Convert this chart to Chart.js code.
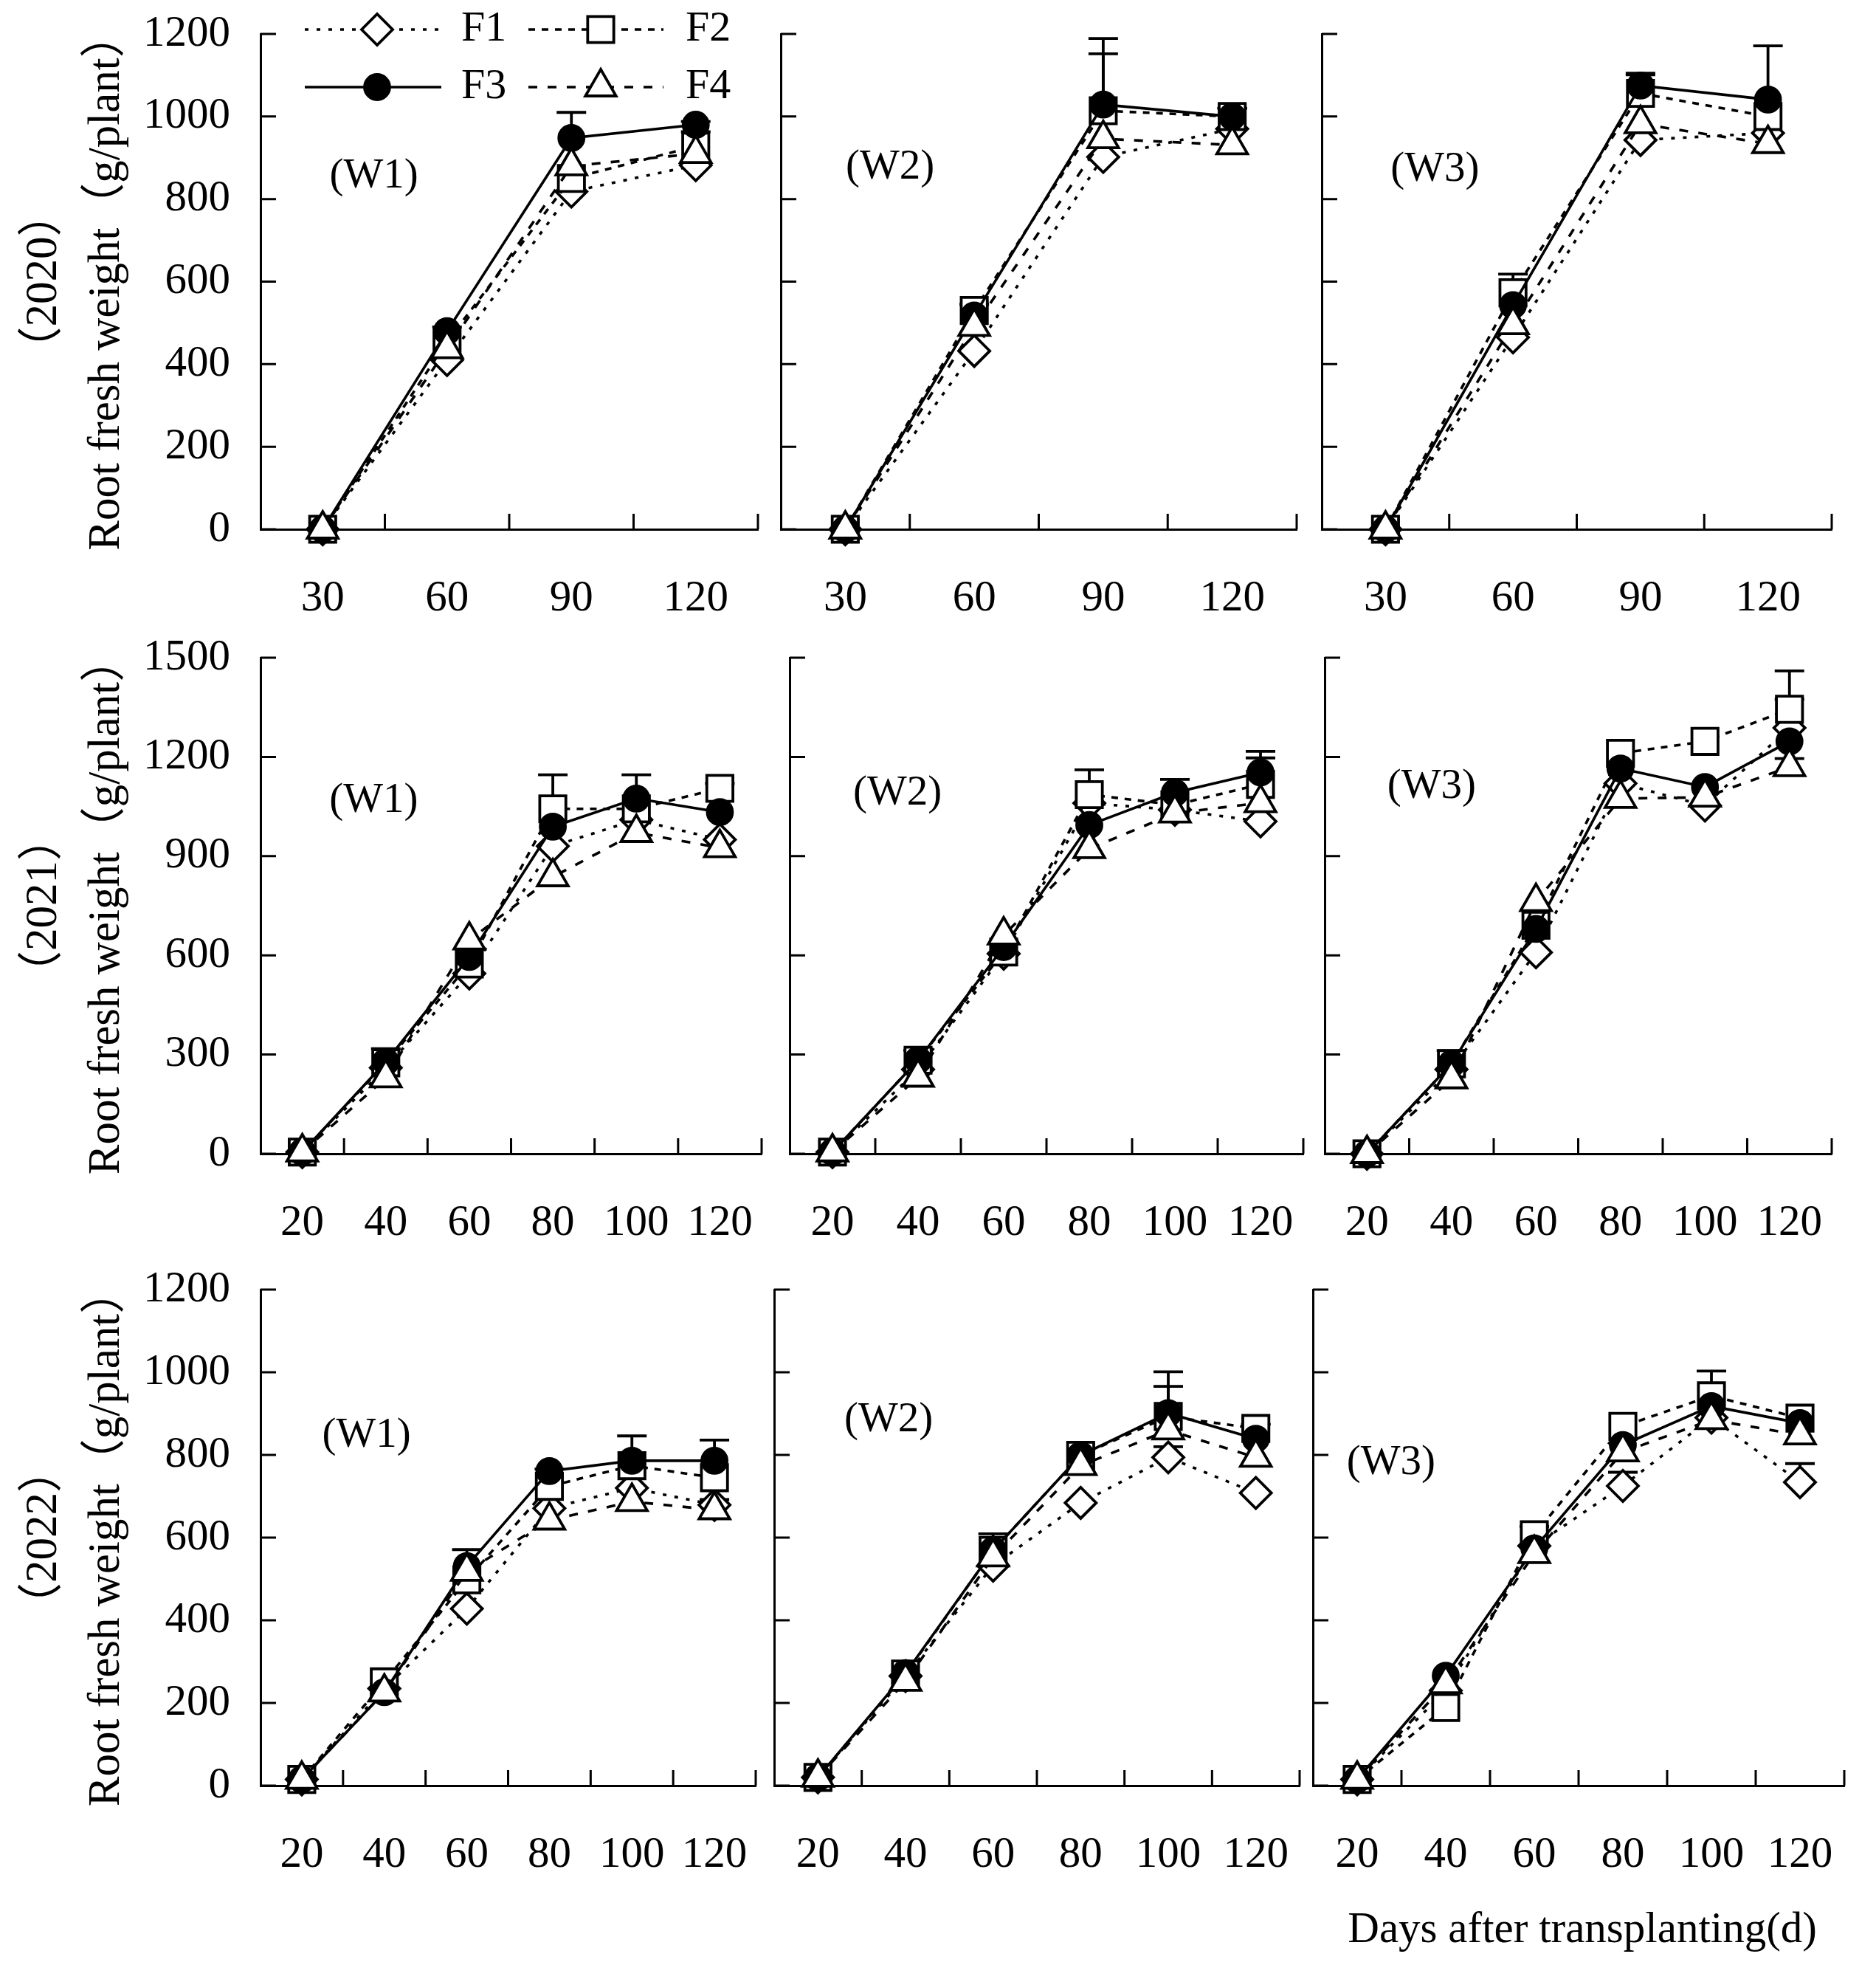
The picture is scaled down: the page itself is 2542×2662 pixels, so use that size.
<!DOCTYPE html>
<html>
<head>
<meta charset="utf-8">
<script src="https://cdn.jsdelivr.net/npm/chart.js@4.4.0/dist/chart.umd.min.js"></script>
<style>
  html, body { margin: 0; padding: 0; background: #fff; }
  #page { position: relative; width: 2542px; height: 2662px; overflow: hidden; background: #fff; }
  #page canvas { position: absolute; }
  #xlab {
    position: absolute; right: 80px; top: 2578px; line-height: 66px;
    font-family: 'Liberation Serif', 'Noto Sans CJK SC', serif; font-size: 59px; color: #000; white-space: nowrap;
  }
</style>
</head>
<body>
<div id="page"><div id="xlab">Days after transplanting(d)</div></div>
<script>
// ===== 数据 =====
const days2020 = ["30", "60", "90", "120"];
const days2122 = ["20", "40", "60", "80", "100", "120"];
const seriesNames = ["F1", "F2", "F3", "F4"];
const yTitles = [
  ["（2020）", "Root fresh weight（g/plant）"],
  ["（2021）", "Root fresh weight（g/plant）"],
  ["（2022）", "Root fresh weight（g/plant）"]
];
const plotLabels = ["(W1)", "(W2)", "(W3)"];

// 2020
const y20w1F1 = [0, 410, 818, 882];
const y20w1F2 = [0, 455, 850, 928];
const y20w1F3 = [0, 480, 948, 980];
const y20w1F4 = [0, 437, 880, 910];
const y20w2F1 = [0, 432, 902, 970];
const y20w2F2 = [0, 530, 1014, 1000];
const y20w2F3 = [0, 518, 1029, 1000];
const y20w2F4 = [0, 491, 946, 931];
const y20w3F1 = [0, 465, 943, 960];
const y20w3F2 = [0, 573, 1056, 1000];
const y20w3F3 = [0, 543, 1075, 1041];
const y20w3F4 = [0, 495, 982, 934];
// 2021
const y21w1F1 = [5, 260, 545, 930, 1010, 950];
const y21w1F2 = [5, 275, 574, 1043, 1043, 1105];
const y21w1F3 = [5, 278, 595, 989, 1074, 1033];
const y21w1F4 = [5, 229, 646, 837, 971, 925];
const y21w2F1 = [5, 255, 605, 1060, 1040, 1005];
const y21w2F2 = [5, 283, 610, 1086, 1055, 1117];
const y21w2F3 = [5, 283, 625, 994, 1092, 1153];
const y21w2F4 = [5, 231, 661, 922, 1030, 1061];
const y21w3F1 = [0, 255, 609, 1120, 1053, 1288];
const y21w3F2 = [0, 272, 691, 1211, 1247, 1344];
const y21w3F3 = [0, 272, 680, 1165, 1109, 1247];
const y21w3F4 = [0, 226, 762, 1074, 1078, 1170];
// 2022
const y22w1F1 = [15, 235, 428, 671, 720, 679];
const y22w1F2 = [15, 251, 498, 724, 774, 745];
const y22w1F3 = [15, 226, 531, 761, 786, 786];
const y22w1F4 = [15, 226, 518, 642, 687, 667];
const y22w2F1 = [20, 265, 532, 684, 794, 708];
const y22w2F2 = [20, 270, 569, 799, 893, 864];
const y22w2F3 = [20, 272, 569, 799, 901, 839];
const y22w2F4 = [20, 252, 553, 774, 860, 794];
const y22w3F1 = [15, 230, 580, 725, 890, 734];
const y22w3F2 = [15, 189, 607, 869, 943, 889];
const y22w3F3 = [15, 266, 574, 824, 918, 877];
const y22w3F4 = [15, 246, 561, 807, 885, 848];

// 误差线（仅向上）
const none4 = [0, 0, 0, 0];
const none6 = [0, 0, 0, 0, 0, 0];
const e20w1 = [none4, [0, 0, 0, 35], [0, 10, 62, 8], none4];
const e20w2 = [none4, [0, 15, 138, 20], [0, 0, 160, 20], none4];
const e20w3 = [none4, [0, 45, 45, 0], [0, 0, 30, 130], none4];
const e21w1 = [none6, [0, 0, 0, 103, 0, 15], [0, 40, 0, 0, 72, 0], none6];
const e21w2 = [none6, [0, 0, 0, 75, 0, 80], [0, 30, 0, 0, 40, 64], none6];
const e21w3 = [[0, 0, 0, 0, 0, 86], [0, 0, 0, 0, 0, 116], [0, 40, 0, 0, 0, 0], [0, 0, 0, 0, 0, 25]];
const e22w1 = [none6, none6, [0, 0, 40, 5, 60, 50], [0, 0, 0, 0, 0, 25]];
const e22w2 = [[0, 0, 0, 0, 26, 0], [0, 0, 40, 0, 73, 10], [0, 0, 0, 0, 100, 0], none6];
const e22w3 = [[0, 0, 0, 33, 0, 45], [0, 0, 20, 0, 60, 0], none6, none6];

const panels = [
  { days: days2020, yMax: 1200, step: 200, series: [y20w1F1, y20w1F2, y20w1F3, y20w1F4], errs: e20w1 },
  { days: days2020, yMax: 1200, step: 200, series: [y20w2F1, y20w2F2, y20w2F3, y20w2F4], errs: e20w2 },
  { days: days2020, yMax: 1200, step: 200, series: [y20w3F1, y20w3F2, y20w3F3, y20w3F4], errs: e20w3 },
  { days: days2122, yMax: 1500, step: 300, series: [y21w1F1, y21w1F2, y21w1F3, y21w1F4], errs: e21w1 },
  { days: days2122, yMax: 1500, step: 300, series: [y21w2F1, y21w2F2, y21w2F3, y21w2F4], errs: e21w2 },
  { days: days2122, yMax: 1500, step: 300, series: [y21w3F1, y21w3F2, y21w3F3, y21w3F4], errs: e21w3 },
  { days: days2122, yMax: 1200, step: 200, series: [y22w1F1, y22w1F2, y22w1F3, y22w1F4], errs: e22w1 },
  { days: days2122, yMax: 1200, step: 200, series: [y22w2F1, y22w2F2, y22w2F3, y22w2F4], errs: e22w2 },
  { days: days2122, yMax: 1200, step: 200, series: [y22w3F1, y22w3F2, y22w3F3, y22w3F4], errs: e22w3 }
];

// ===== 版面 =====
const FONT = "'Liberation Serif', 'Noto Sans CJK SC', serif";
const YW = 340;   // 纵轴区宽度
const PT = 45;    // 绘图区上方留白
const PR = 30;
const XH = 140;   // 横轴区高度
const TICK = 21;  // 内向刻度线长度
// 绘图区位置 [left, top, width, height]
const boxes = [
  [353, 46, 674, 671], [1058, 46, 699, 671], [1791, 46, 691, 671],
  [353, 891, 679, 672], [1070, 891, 696, 672], [1795, 891, 687, 672],
  [353, 1747, 671, 672], [1049, 1747, 712, 672], [1779, 1747, 720, 672]
];
// (W) 标签位置（绘图区比例）
const labelPos = [
  [0.228, 0.288], [0.212, 0.27], [0.222, 0.275],
  [0.226, 0.289], [0.21, 0.274], [0.211, 0.26],
  [0.214, 0.294], [0.218, 0.264], [0.147, 0.35]
];
// 图例位置：线起点、线终点、符号、文字、相对绘图区顶部
const legendSpots = [[60, 245, 158, 272, -6], [363, 546, 461, 576, -6], [60, 245, 158, 272, 72], [363, 546, 461, 576, 72]];

const styles = [
  { dash: [5, 11], pointStyle: "rectRot", radius: 21, fill: "#fff" },
  { dash: [9, 9], pointStyle: "rect", radius: 25, fill: "#fff" },
  { dash: [], pointStyle: "circle", radius: 17, fill: "#000" },
  { dash: [12, 14], pointStyle: "triangle", radius: 24, fill: "#fff" }
];

// ===== 插件 =====
const errorBars = {
  id: "errorBars",
  beforeDatasetsDraw(chart) {
    const { ctx } = chart;
    const ys = chart.scales.y;
    chart.data.datasets.forEach((ds, i) => {
      const meta = chart.getDatasetMeta(i);
      ds.errs.forEach((e, j) => {
        if (!e) return;
        const x = meta.data[j].x;
        const y0 = ys.getPixelForValue(ds.data[j]);
        const y1 = ys.getPixelForValue(ds.data[j] + e);
        ctx.save();
        ctx.strokeStyle = "#000";
        ctx.lineWidth = 3.8;
        ctx.beginPath();
        ctx.moveTo(x, y0); ctx.lineTo(x, y1);
        ctx.moveTo(x - 20, y1); ctx.lineTo(x + 20, y1);
        ctx.stroke();
        ctx.restore();
      });
    });
  }
};

const innerTicks = {
  id: "innerTicks",
  afterDraw(chart) {
    const { ctx, chartArea: a } = chart;
    const xs = chart.scales.x, ys = chart.scales.y;
    ctx.save();
    ctx.strokeStyle = "#000";
    ctx.lineWidth = 3;
    ctx.beginPath();
    ys.ticks.forEach(t => {
      const y = ys.getPixelForValue(t.value);
      ctx.moveTo(a.left, y); ctx.lineTo(a.left + TICK, y);
    });
    for (let i = 1; i <= xs.ticks.length; i++) {
      const x = xs.getPixelForValue(i - 0.5);
      ctx.moveTo(x, a.bottom); ctx.lineTo(x, a.bottom - TICK);
    }
    ctx.stroke();
    ctx.restore();
  }
};

const panelText = {
  id: "panelText",
  afterDraw(chart, args, opts) {
    const { ctx, chartArea: a } = chart;
    ctx.save();
    ctx.fillStyle = "#000";
    ctx.font = `57px ${FONT}`;
    ctx.textAlign = "center";
    ctx.textBaseline = "middle";
    ctx.fillText(opts.text, a.left + opts.fx * (a.right - a.left), a.top + opts.fy * (a.bottom - a.top));
    ctx.restore();
  }
};

const fLegend = {
  id: "fLegend",
  afterDraw(chart, args, opts) {
    if (!opts.show) return;
    const { ctx, chartArea: a } = chart;
    chart.data.datasets.forEach((ds, i) => {
      const [x0, x1, xm, xt, dy] = legendSpots[i];
      const y = a.top + dy;
      ctx.save();
      ctx.strokeStyle = "#000";
      ctx.lineWidth = ds.borderWidth;
      ctx.setLineDash(ds.borderDash);
      ctx.beginPath();
      ctx.moveTo(a.left + x0, y); ctx.lineTo(a.left + x1, y);
      ctx.stroke();
      ctx.setLineDash([]);
      ctx.fillStyle = ds.pointBackgroundColor;
      ctx.lineWidth = ds.pointBorderWidth;
      Chart.helpers.drawPoint(ctx, { pointStyle: ds.pointStyle, radius: ds.pointRadius, borderWidth: ds.pointBorderWidth, rotation: 0 }, a.left + xm, y);
      ctx.fillStyle = "#000";
      ctx.font = `58px ${FONT}`;
      ctx.textAlign = "left";
      ctx.textBaseline = "middle";
      ctx.fillText(ds.label, a.left + xt, y);
      ctx.restore();
    });
  }
};

// ===== 建图 =====
const page = document.getElementById("page");

panels.forEach((p, idx) => {
  const row = Math.floor(idx / 3), col = idx % 3;
  const [bl, bt, bw, bh] = boxes[idx];
  const cv = document.createElement("canvas");
  cv.width = YW + bw + PR;
  cv.height = PT + bh + XH;
  cv.style.left = (bl - YW) + "px";
  cv.style.top = (bt - PT) + "px";
  cv.style.width = cv.width + "px";
  cv.style.height = cv.height + "px";
  page.appendChild(cv);

  const datasets = p.series.map((vals, k) => ({
    label: seriesNames[k],
    data: vals,
    errs: p.errs[k],
    borderColor: "#000",
    borderWidth: 3.6,
    borderDash: styles[k].dash,
    pointStyle: styles[k].pointStyle,
    pointRadius: styles[k].radius,
    pointBorderWidth: 3.8,
    pointBorderColor: "#000",
    pointBackgroundColor: styles[k].fill,
    backgroundColor: styles[k].fill,
    tension: 0,
    clip: false,
    order: 3 - k
  }));

  new Chart(cv, {
    type: "line",
    data: { labels: p.days, datasets },
    options: {
      responsive: false,
      devicePixelRatio: 1,
      animation: false,
      events: [],
      layout: { padding: { top: PT, right: PR, left: 0, bottom: 0 } },
      scales: {
        x: {
          type: "category",
          offset: true,
          grid: { display: false, drawTicks: false },
          border: { display: true, color: "#000", width: 3 },
          ticks: { color: "#000", font: { family: FONT, size: 59 }, padding: 59, maxRotation: 0, autoSkip: false },
          afterFit: s => { s.height = XH; s.paddingLeft = 0; s.paddingRight = 0; }
        },
        y: {
          min: 0,
          max: p.yMax,
          grid: { display: false, drawTicks: false },
          border: { display: true, color: "#000", width: 3 },
          ticks: {
            display: col === 0, stepSize: p.step, color: "#000",
            font: { family: FONT, size: 59 }, padding: 41,
            callback: v => String(v)
          },
          title: {
            display: col === 0,
            text: yTitles[row],
            color: "#000",
            font: { family: FONT, size: 61, lineHeight: 1.4 },
            padding: { top: 4, bottom: 0 }
          },
          afterFit: s => { s.width = YW; s.paddingTop = 0; s.paddingBottom = 0; }
        }
      },
      plugins: {
        legend: { display: false },
        tooltip: { enabled: false },
        panelText: { text: plotLabels[col], fx: labelPos[idx][0], fy: labelPos[idx][1] },
        fLegend: { show: idx === 0 }
      }
    },
    plugins: [errorBars, innerTicks, panelText, fLegend]
  });
});
</script>
</body>
</html>
